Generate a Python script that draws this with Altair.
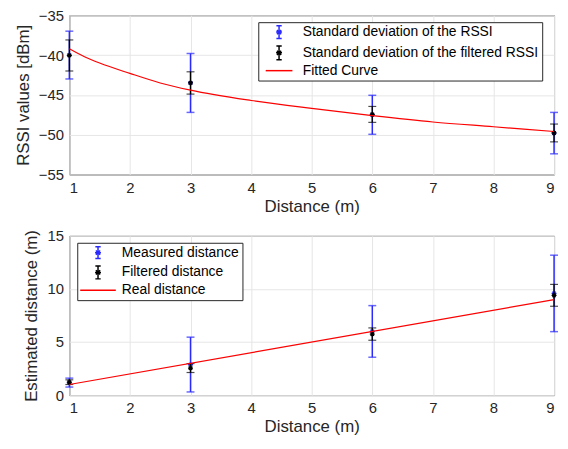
import altair as alt
import pandas as pd

# ---------------- data ----------------
distance = [1, 3, 6, 9]

rssi_mean = [-40.0, -43.5, -47.5, -49.8]
rssi_std = [3.0, 3.7, 2.45, 2.6]
rssi_filt_mean = [-40.05, -43.5, -47.45, -49.78]
rssi_filt_std = [1.95, 1.4, 1.0, 1.12]

fit_x = [1, 1.25, 1.5, 2, 2.5, 3, 4, 5, 6, 7, 8, 9]
fit_y = [-39.2, -40.2, -41.0, -42.3, -43.5, -44.4, -45.7, -46.7, -47.6, -48.4, -49.0, -49.6]

dist_meas_mean = [1.18, 2.88, 6.0, 9.58]
dist_meas_std = [0.42, 2.58, 2.43, 3.6]
dist_filt_mean = [1.22, 2.55, 5.75, 9.4]
dist_filt_std = [0.22, 0.42, 0.58, 1.03]

real_x = [1, 9]
real_y = [1, 9]

x_ticks = [1, 2, 3, 4, 5, 6, 7, 8, 9]
rssi_ticks = [-55, -50, -45, -40, -35]
dist_ticks = [0, 5, 10, 15]

top_labels = ["Standard deviation of the RSSI",
              "Standard deviation of the filtered RSSI",
              "Fitted Curve"]
bottom_labels = ["Measured distance", "Filtered distance", "Real distance"]

BLUE = "#2a2aff"
BLACK = "#000000"
RED = "#ff0000"
FONT = "Liberation Sans"

STAR = "M-1,0L1,0M0,-1L0,1M-0.7,-0.7L0.7,0.7M-0.7,0.7L0.7,-0.7"


def err_icon(h):
    c = 0.45
    s = 0.5
    d = 0.36
    return (f"M0,-{h}L0,{h}M-{c},-{h}L{c},-{h}M-{c},{h}L{c},{h}"
            f"M-{s},0L{s},0M0,-{s}L0,{s}M-{d},-{d}L{d},{d}M-{d},{d}L{d},-{d}")


def frame(xs, means, stds):
    return pd.DataFrame({
        "x": xs,
        "m": means,
        "lo": [a - b for a, b in zip(means, stds)],
        "hi": [a + b for a, b in zip(means, stds)],
    })


def errbars(df, color, width, cap):
    base = alt.Chart(df)
    rule = base.mark_rule(color=color, strokeWidth=width).encode(
        x="x:Q", y="lo:Q", y2="hi:Q")
    t1 = base.mark_tick(color=color, orient="horizontal", size=cap,
                        thickness=width).encode(x="x:Q", y="lo:Q")
    t2 = base.mark_tick(color=color, orient="horizontal", size=cap,
                        thickness=width).encode(x="x:Q", y="hi:Q")
    pt = base.mark_point(shape=STAR, filled=False, color=color, size=25,
                         strokeWidth=1.2, opacity=1).encode(x="x:Q", y="m:Q")
    return [rule, t1, t2, pt]


def panel(df_a, df_b, line_df, ydomain, yticks, ytitle, labels, icons,
          lx, ly):
    xsc = alt.Scale(domain=[1, 9], nice=False, zero=False)
    ysc = alt.Scale(domain=ydomain, nice=False, zero=False)
    xax = alt.Axis(values=x_ticks, title="Distance (m)", format="d",
                   labelOverlap=False)
    yax = alt.Axis(values=yticks, title=ytitle, format="d",
                   labelOverlap=False)

    layers = []
    layers += errbars(df_a, BLUE, 1.5, 8)
    layers += errbars(df_b, BLACK, 1.2, 8)
    line = alt.Chart(line_df).mark_line(color=RED, strokeWidth=1.2,
                                        interpolate="monotone").encode(
        x=alt.X("x:Q", scale=xsc, axis=xax),
        y=alt.Y("y:Q", scale=ysc, axis=yax))
    layers.append(line)

    leg_df = pd.DataFrame({"series": labels})
    legend = alt.Legend(
        title=None, orient="none", legendX=lx, legendY=ly,
        fillColor="white", strokeColor="#262626", padding=3,
        symbolSize=144, symbolStrokeWidth=1.5, symbolOpacity=1,
        symbolFillColor="transparent", symbolOffset=11, labelOffset=17,
        labelFontSize=14, labelFont=FONT, labelColor="#000000",
        rowPadding=1, labelLimit=400, cornerRadius=0)
    dummy = alt.Chart(leg_df).mark_point(filled=False, opacity=0).encode(
        color=alt.Color("series:N",
                        scale=alt.Scale(domain=labels,
                                        range=[BLUE, BLACK, RED]),
                        legend=legend, sort=labels),
        shape=alt.Shape("series:N",
                        scale=alt.Scale(domain=labels, range=icons),
                        legend=legend, sort=labels))
    layers.append(dummy)

    layers[0] = layers[0].encode(
        x=alt.X("x:Q", scale=xsc, axis=xax),
        y=alt.Y("lo:Q", scale=ysc, axis=yax))
    return alt.layer(*layers).properties(width=490, height=161)


top = panel(frame(distance, rssi_mean, rssi_std),
            frame(distance, rssi_filt_mean, rssi_filt_std),
            pd.DataFrame({"x": fit_x, "y": fit_y}),
            [-55, -35], rssi_ticks, "RSSI values [dBm]", top_labels,
            [err_icon(1.08), err_icon(1.15), "M-2.25,0L2.25,0"], 191, 7)

bottom = panel(frame(distance, dist_meas_mean, dist_meas_std),
               frame(distance, dist_filt_mean, dist_filt_std),
               pd.DataFrame({"x": real_x, "y": real_y}),
               [0, 15], dist_ticks, "Estimated distance (m)", bottom_labels,
               [err_icon(1.0), err_icon(1.08), "M-3,0L3,0"], 8, 7)

chart = alt.vconcat(top, bottom, spacing=62, bounds="flush").resolve_scale(
    color="independent", shape="independent"
).properties(
    padding={"left": 6, "top": -3, "right": 0, "bottom": 0}
).configure(font=FONT).configure_view(
    stroke="#262626", strokeWidth=1
).configure_axis(
    domain=False, ticks=False, grid=True, gridColor="#e6e6e6",
    gridWidth=1, labelFont=FONT, labelFontSize=15, labelColor="#262626",
    titleFont=FONT, titleFontSize=17, titleFontWeight="normal",
    titleColor="#262626"
).configure_axisX(labelPadding=6, titlePadding=3).configure_axisY(
    labelPadding=6, titlePadding=6)

chart.save("out.html", embed_options={"renderer": "svg", "actions": False})
